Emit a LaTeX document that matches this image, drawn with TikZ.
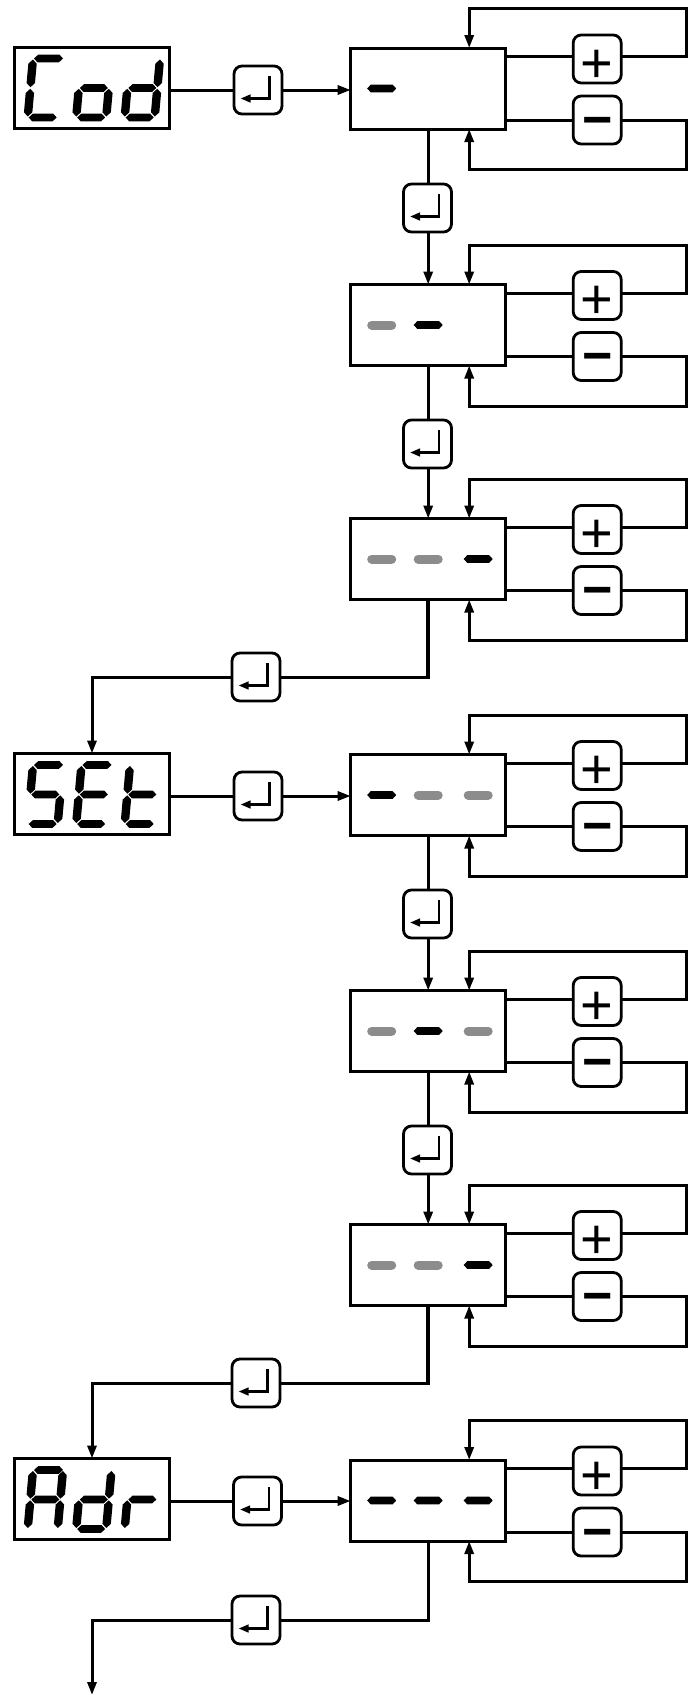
\documentclass[tikz,border=0pt]{standalone}
\usepackage{fontspec}
\newfontfamily\keyfont{Liberation Sans}
\usetikzlibrary{positioning,calc,arrows.meta}

\tikzset{
  wire/.style = {line width=3pt},
  feed/.style = {wire, -{Triangle[length=13pt,width=9pt]}},
  panel/.style = {draw, line width=3pt, fill=white, inner sep=0pt, outer sep=0pt,
    minimum width=155pt, minimum height=81pt},
  keybox/.style = {draw, line width=2.8pt, fill=white, rounded corners=8pt, inner sep=0pt,
    outer sep=0pt, minimum size=48pt},
  enterkey/.style = {keybox, path picture={
      \draw[sharp corners, line width=2.9pt, -{Triangle[length=10pt,width=7.5pt]}]
      ([shift={(11.5,-14)}]path picture bounding box.center)
      -- ([shift={(11.5,8.5)}]path picture bounding box.center)
      -- ([shift={(-17.5,8.5)}]path picture bounding box.center);
    }},
  pluskey/.style = {keybox, font=\keyfont\fontsize{56}{56}\selectfont},
  minuskey/.style = {keybox, font=\keyfont\bfseries\fontsize{52}{52}\selectfont},
  litdash/.pic = {
    \fill (-14.5,0) -- (-11,-3.8) -- (11,-3.8) -- (14.5,0) -- (11,3.8) -- (-11,3.8) -- cycle;
  },
  dimdash/.pic = {
    \draw[line width=9pt, line cap=round, color=black!45] (-10,0) -- (10,0);
  },
}

% display segments, in a box sheared to the right
\newcommand{\hsegm}[3]{\fill (#1,#3) -- (#1+3.8,#3-3.8) -- (#2-3.8,#3-3.8) -- (#2,#3)
  -- (#2-3.8,#3+3.8) -- (#1+3.8,#3+3.8) -- cycle;}
\newcommand{\vsegm}[3]{\fill (#1,#2) -- (#1+4.2,#2+4.2) -- (#1+4.2,#3-4.2) -- (#1,#3)
  -- (#1-4.2,#3-4.2) -- (#1-4.2,#2+4.2) -- cycle;}
\newcommand{\sega}{\hsegm{1}{30}{0}}
\newcommand{\segb}{\vsegm{30}{1}{28.7}}
\newcommand{\segc}{\vsegm{30}{30.3}{58}}
\newcommand{\segd}{\hsegm{1}{29}{59}}
\newcommand{\sege}{\vsegm{0}{30.3}{58}}
\newcommand{\segf}{\vsegm{0}{1}{28.7}}
\newcommand{\segg}{\hsegm{1}{29}{29.5}}
\newcommand{\segglyph}[3]{
  \begin{scope}[shift={(#1,#2)},xslant=0.09]
    \foreach \s in {#3} {\csname seg\s\endcsname}
  \end{scope}
}

% one edit panel with its two keys and their loops
\newcommand{\editrow}[2]{
  \node[panel] (p#1) at (428.2,#2) {};
  \node[pluskey] (up#1) at ($(p#1)+(169,-29.5)$) {\raisebox{-23pt}[0pt][0pt]{+}};
  \node[minuskey] (dn#1) at ($(p#1)+(169,31.5)$) {\raisebox{-17pt}[0pt][0pt]{\char"2212}};
  \coordinate (a#1) at ($(p#1.east)+(0,-32)$);
  \coordinate (b#1) at ($(p#1.east)+(0,31.5)$);
  \coordinate (c#1) at ($(p#1.north)+(41,-39.5)$);
  \coordinate (d#1) at ($(p#1.south)+(41,40.5)$);
  \draw[wire] (a#1) -- (a#1 -| up#1.west);
  \draw[wire] (b#1) -- (b#1 -| dn#1.west);
  \draw[feed] (a#1 -| up#1.east) -- ++(65.7,0) |- (c#1) -- (c#1 |- p#1.north);
  \draw[feed] (b#1 -| dn#1.east) -- ++(65.7,0) |- (d#1) -- (d#1 |- p#1.south);
}

\begin{document}
\begin{tikzpicture}[x=1pt, y=-1pt]
  \useasboundingbox (0,0) rectangle (689,1695);

  \editrow{1}{88.5}
  \editrow{2}{325}
  \editrow{3}{559}
  \editrow{4}{795}
  \editrow{5}{1031}
  \editrow{6}{1265}
  \editrow{7}{1500.5}

  \pic at ($(p1)+(-46.5,0)$) {litdash};
  \pic at ($(p2)+(-46.5,0)$) {dimdash};
  \pic at (p2) {litdash};
  \pic at ($(p3)+(-46.5,0)$) {dimdash};
  \pic at (p3) {dimdash};
  \pic at ($(p3)+(50,0)$) {litdash};
  \pic at ($(p4)+(-46.5,0)$) {litdash};
  \pic at (p4) {dimdash};
  \pic at ($(p4)+(50,0)$) {dimdash};
  \pic at ($(p5)+(-46.5,0)$) {dimdash};
  \pic at (p5) {litdash};
  \pic at ($(p5)+(50,0)$) {dimdash};
  \pic at ($(p6)+(-46.5,0)$) {dimdash};
  \pic at (p6) {dimdash};
  \pic at ($(p6)+(50,0)$) {litdash};
  \pic at ($(p7)+(-46.5,0)$) {litdash};
  \pic at (p7) {litdash};
  \pic at ($(p7)+(50,0)$) {litdash};

  \node[panel] (cod) at (92,87.5) {};
  \node[panel] (set) at (92,794) {};
  \node[panel] (adr) at (92,1499) {};

  \segglyph{33}{58.5}{a,f,e,d}
  \segglyph{81.5}{58.5}{g,c,d,e}
  \segglyph{130}{58.5}{b,c,d,e,g}
  \segglyph{33}{765}{a,f,g,c,d}
  \segglyph{81.5}{765}{a,f,g,e,d}
  \segglyph{130}{765}{f,e,d,g}
  \segglyph{33}{1470}{a,b,c,e,f,g}
  \segglyph{81.5}{1470}{b,c,d,e,g}
  \segglyph{130}{1470}{e,g}

  \node[enterkey] (kcod) at (258,90) {};
  \node[enterkey] (kset) at (258,796) {};
  \node[enterkey] (kadr) at (257.5,1501) {};
  \node[enterkey] (k12) at (427.5,208) {};
  \node[enterkey] (k23) at (427.5,444) {};
  \node[enterkey] (k45) at (427.5,914) {};
  \node[enterkey] (k56) at (427.5,1150) {};
  \node[enterkey] (k34) at (256,677) {};
  \node[enterkey] (k67) at (256,1383) {};
  \node[enterkey] (k78) at (256,1620) {};
  \coordinate (out) at (92,1695);

  \draw[wire] (cod.east |- kcod) -- (kcod.west);
  \draw[feed] (kcod.east) -- (kcod.east -| p1.west);
  \draw[wire] (set.east |- kset) -- (kset.west);
  \draw[feed] (kset.east) -- (kset.east -| p4.west);
  \draw[wire] (adr.east |- kadr) -- (kadr.west);
  \draw[feed] (kadr.east) -- (kadr.east -| p7.west);

  \draw[wire] (p1.south) -- (p1.south |- k12.north);
  \draw[feed] (p1.south |- k12.south) -- (p2.north);
  \draw[wire] (p2.south) -- (p2.south |- k23.north);
  \draw[feed] (p2.south |- k23.south) -- (p3.north);
  \draw[wire] (p4.south) -- (p4.south |- k45.north);
  \draw[feed] (p4.south |- k45.south) -- (p5.north);
  \draw[wire] (p5.south) -- (p5.south |- k56.north);
  \draw[feed] (p5.south |- k56.south) -- (p6.north);

  \draw[wire, line width=3.8pt] (p3.south) -- ($(p3.south |- k34)+(0,2)$);
  \draw[wire] (p3.south |- k34) -- (k34.east);
  \draw[feed] (k34.west) -| (set.north);
  \draw[wire, line width=3.8pt] (p6.south) -- ($(p6.south |- k67)+(0,2)$);
  \draw[wire] (p6.south |- k67) -- (k67.east);
  \draw[feed] (k67.west) -| (adr.north);
  \draw[wire] (p7.south) |- (k78.east);
  \draw[feed] (k78.west) -| (out);
\end{tikzpicture}
\end{document}
